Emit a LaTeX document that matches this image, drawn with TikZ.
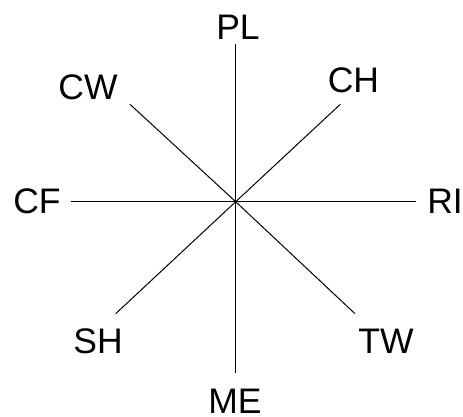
\documentclass[tikz,border=0pt]{standalone}
\usepackage{fontspec}
\setmainfont{Liberation Sans}
\usepackage{tikz}
\usetikzlibrary{positioning}

\begin{document}
\begin{tikzpicture}[
  x=1pt, y=-1pt,
  lbl/.style={inner sep=0pt, font=\fontsize{35.5}{40}\selectfont},
  spoke/.style={line width=1pt, black}
]
\useasboundingbox (0,0) rectangle (463,416);

% ---- hub and spoke ends ----
\coordinate (hub) at (235.7,201.7);
\coordinate (plEnd) at (235.7,44.3);
\coordinate (chEnd) at (340.3,104.3);
\coordinate (riEnd) at (416,201.7);
\coordinate (twEnd) at (355,313.7);
\coordinate (meEnd) at (235.7,373.3);
\coordinate (shEnd) at (115.7,313.7);
\coordinate (cfEnd) at (70.7,201.7);
\coordinate (cwEnd) at (130,104.3);

% ---- labels ----
\node[lbl] (pl) at (238,27.5) {PL};
\node[lbl] (ch) at (353.5,80) {CH};
\node[lbl] (ri) at (445,201.3) {RI};
\node[lbl] (tw) at (386,341.5) {TW};
\node[lbl] (me) at (235,400.8) {ME};
\node[lbl] (sh) at (98,341.5) {SH};
\node[lbl] (cf) at (37,201.3) {CF};
\node[lbl] (cw) at (88,87) {CW};

% ---- spokes ----
\draw[spoke] (hub) -- (plEnd);
\draw[spoke] (hub) -- (chEnd);
\draw[spoke] (hub) -- (riEnd);
\draw[spoke] (hub) -- (twEnd);
\draw[spoke] (hub) -- (meEnd);
\draw[spoke] (hub) -- (shEnd);
\draw[spoke] (hub) -- (cfEnd);
\draw[spoke] (hub) -- (cwEnd);
\end{tikzpicture}
\end{document}
